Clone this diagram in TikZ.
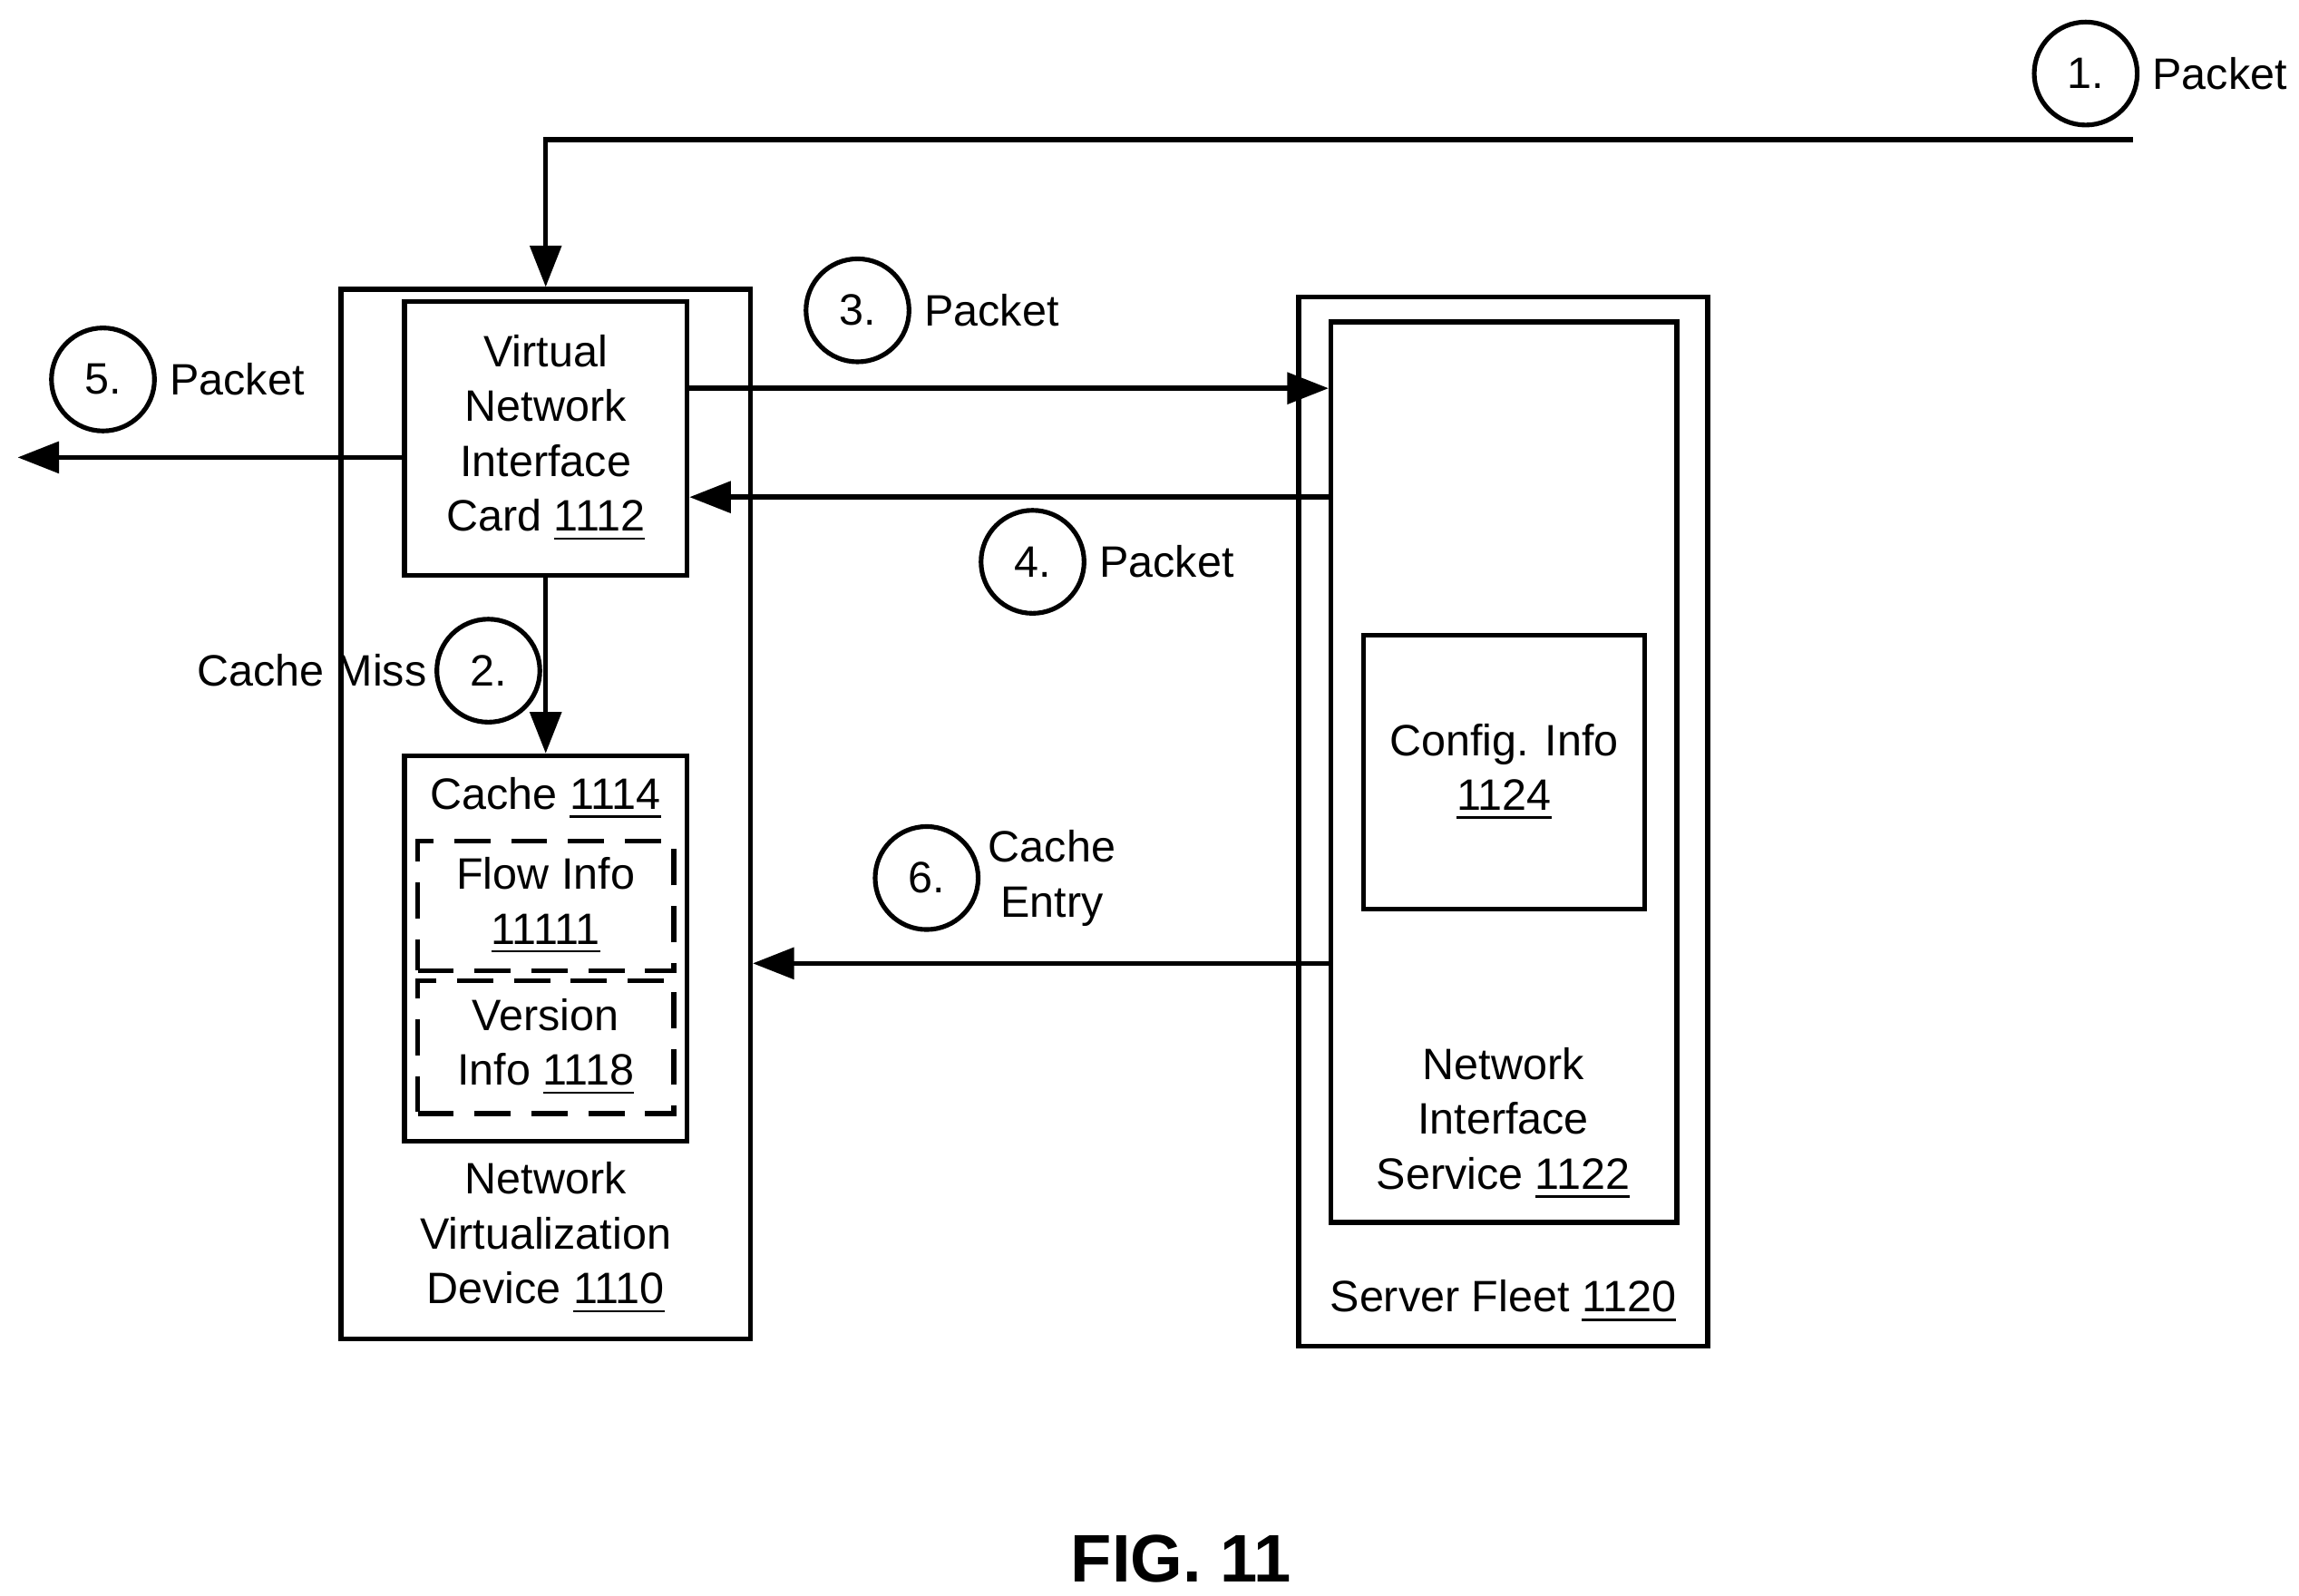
\documentclass[tikz,border=0pt]{standalone}
\usepackage{fontspec}
\setmainfont{Liberation Sans}
\usepackage{tikz}
\usetikzlibrary{arrows.meta, positioning}
\tikzstyle{box} = [rectangle, draw=black, line width=0.95pt, inner sep=0pt]
\tikzstyle{dbox} = [rectangle, draw=black, line width=0.95pt, dashed, dash pattern=on 7pt off 4pt, inner sep=0pt]
\tikzstyle{stepnum} = [circle, draw=black, line width=0.9pt, minimum size=0.7cm, inner sep=0pt]
\tikzstyle{lbl} = [align=center, font=\fontsize{8.5}{10.6}\selectfont]
\tikzstyle{arrow} = [line width=0.95pt, -{Triangle[length=8pt, width=6pt]}]

\begin{document}
\begin{tikzpicture}[x=0.01cm, y=-0.01cm]
\useasboundingbox (0,0) rectangle (1563,1085);
% Boxes
\node (nvd) [box, minimum width=2.78cm, minimum height=7.13cm] at (371,553.5) {};
\node (vnic) [box, minimum width=1.92cm, minimum height=1.86cm, lbl] at (371,298) {Virtual\\Network\\Interface\\Card \underline{1112}};
\node (cache) [box, minimum width=1.92cm, minimum height=2.62cm] at (371,645) {};
\node [lbl] at (371,543) {Cache \underline{1114}};
\node (flow) [dbox, minimum width=1.74cm, minimum height=0.88cm, lbl] at (371,616) {Flow Info\\\underline{11111}};
\node (version) [dbox, minimum width=1.74cm, minimum height=0.90cm, lbl] at (371,712) {Version\\Info \underline{1118}};
\node [lbl] at (371,842) {Network\\Virtualization\\Device \underline{1110}};

\node (fleet) [box, minimum width=2.78cm, minimum height=7.13cm] at (1022,558.5) {};
\node (nis) [box, minimum width=2.35cm, minimum height=6.12cm] at (1022.5,525) {};
\node [lbl] at (1022,764) {Network\\Interface\\Service \underline{1122}};
\node (config) [box, minimum width=1.91cm, minimum height=1.86cm, lbl] at (1022.5,525) {Config. Info\\\underline{1124}};
\node [lbl] at (1022,885) {Server Fleet \underline{1120}};

% Steps
\node (s1) [stepnum, lbl] at (1418,50) {1.};
\node [lbl, right=-1pt of s1] {Packet};
\node (s2) [stepnum, lbl] at (332,456) {2.};
\node [lbl, left=-2pt of s2] {Cache Miss};
\node (s3) [stepnum, lbl] at (583,211) {3.};
\node [lbl, right=-1pt of s3] {Packet};
\node (s4) [stepnum, lbl] at (702,382) {4.};
\node [lbl, right=-1pt of s4] {Packet};
\node (s5) [stepnum, lbl] at (70,258) {5.};
\node [lbl, right=-1pt of s5] {Packet};
\node (s6) [stepnum, lbl] at (630,597) {6.};
\node [lbl, right=-2pt of s6] {Cache\\Entry};

% Arrows
\coordinate (in) at (1450,95);
\coordinate (out) at (12,311);
\draw [arrow] (in) -- (371,95) -- (vnic.north |- nvd.north);
\draw [arrow] (vnic.east |- 0,264) -- (nis.west |- 0,264);
\draw [arrow] (nis.west |- 0,338) -- (vnic.east |- 0,338);
\draw [arrow] (vnic.west |- out) -- (out);
\draw [arrow] (vnic.south) -- (cache.north);
\draw [arrow] (nis.west |- 0,655) -- (nvd.east |- 0,655);

\node [font=\fontsize{13}{15}\selectfont\bfseries] at (803,1060) {FIG. 11};
\end{tikzpicture}
\end{document}
